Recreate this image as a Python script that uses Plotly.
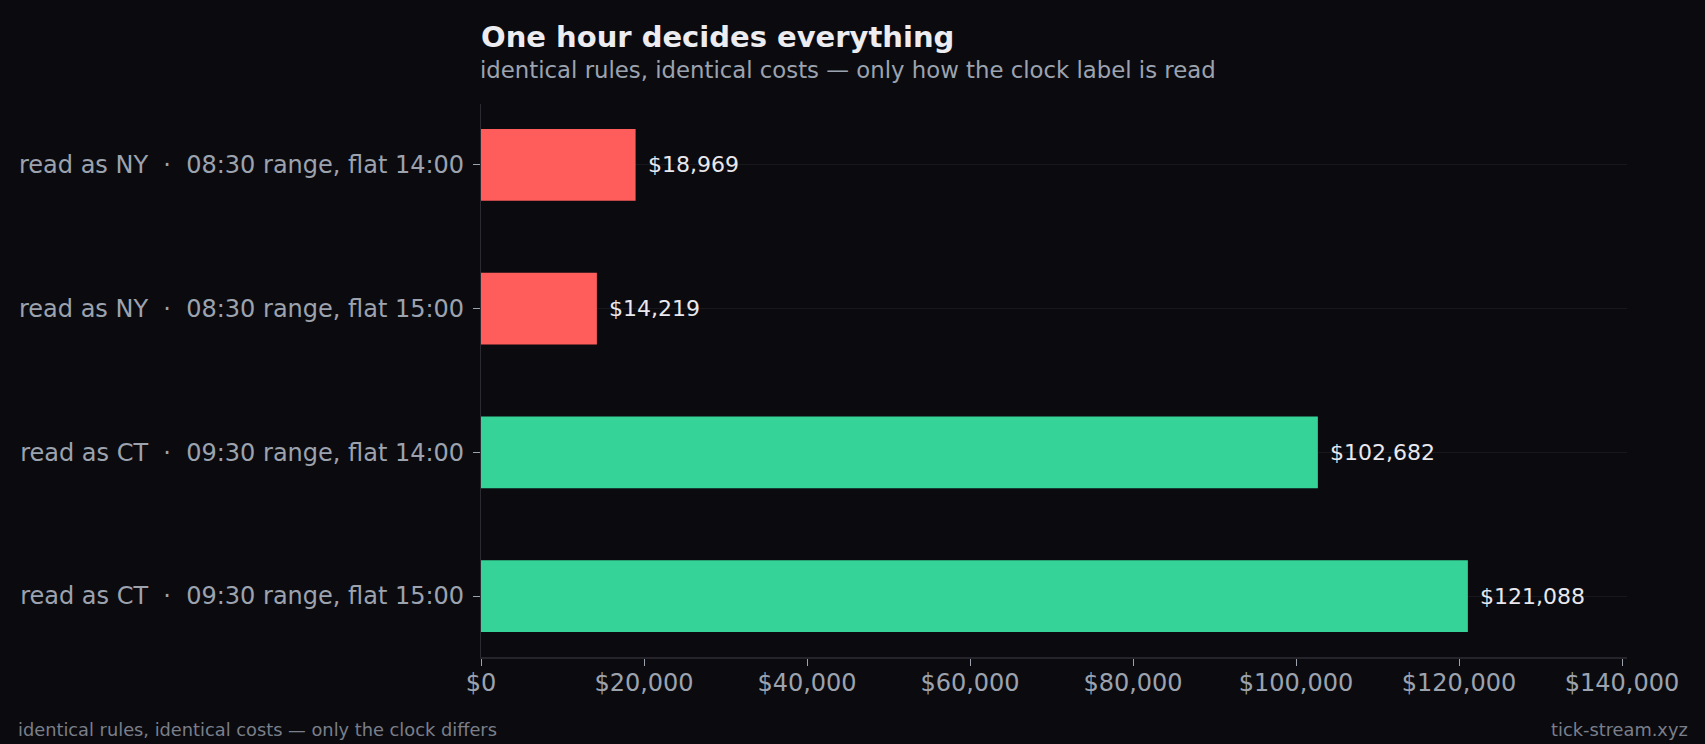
import plotly.graph_objects as go

categories = [
    "read as NY  ·  08:30 range, flat 14:00",
    "read as NY  ·  08:30 range, flat 15:00",
    "read as CT  ·  09:30 range, flat 14:00",
    "read as CT  ·  09:30 range, flat 15:00",
]
values = [18969, 14219, 102682, 121088]
bar_colors = ["#ff5c5c", "#ff5c5c", "#36d399", "#36d399"]
value_labels = ["$18,969", "$14,219", "$102,682", "$121,088"]
x_ticks = [0, 20000, 40000, 60000, 80000, 100000, 120000, 140000]
x_tick_labels = ["$0", "$20,000", "$40,000", "$60,000", "$80,000", "$100,000", "$120,000", "$140,000"]

title_text = "One hour decides everything"
subtitle_text = "identical rules, identical costs — only how the clock label is read"
footer_left = "identical rules, identical costs — only the clock differs"
footer_right = "tick-stream.xyz"

BG = "#0b0b0f"
FONT = "DejaVu Sans"
W, H = 1705, 744
ML, MR, MT, MB = 481, 78, 104, 87
PW, PH = W - ML - MR, H - MT - MB

def py(px):
    return (H - MB - px) / PH

def pxx(px):
    return (px - ML) / PW

fig = go.Figure()
fig.add_trace(go.Bar(
    x=values, y=categories, orientation="h",
    marker=dict(color=bar_colors, line=dict(width=0)),
    width=0.5, hoverinfo="skip",
))

annotations = []
for v, c, t in zip(values, categories, value_labels):
    annotations.append(dict(
        x=v, y=c, xref="x", yref="y", text=t, showarrow=False,
        xanchor="left", yanchor="middle", xshift=10,
        font=dict(family=FONT, size=22, color="#e8e8ee"),
    ))

annotations += [
    dict(x=pxx(479), y=py(37), xref="paper", yref="paper", text="<b>%s</b>" % title_text,
         showarrow=False, xanchor="left", yanchor="middle",
         font=dict(family=FONT, size=29, color="#ececf1")),
    dict(x=pxx(478), y=py(70), xref="paper", yref="paper", text=subtitle_text,
         showarrow=False, xanchor="left", yanchor="middle",
         font=dict(family=FONT, size=22.8, color="#9ca3af")),
    dict(x=pxx(16), y=py(729), xref="paper", yref="paper", text=footer_left,
         showarrow=False, xanchor="left", yanchor="middle",
         font=dict(family=FONT, size=17.8, color="#7a7f8a")),
    dict(x=pxx(1690), y=py(729), xref="paper", yref="paper", text=footer_right,
         showarrow=False, xanchor="right", yanchor="middle",
         font=dict(family=FONT, size=17.8, color="#7a7f8a")),
]

fig.update_layout(
    width=W, height=H,
    margin=dict(l=ML, r=MR, t=MT, b=MB, pad=0),
    paper_bgcolor=BG, plot_bgcolor=BG,
    showlegend=False,
    font=dict(family=FONT, color="#9ca3af"),
    annotations=annotations,
    bargap=0.5,
)
fig.update_xaxes(
    range=[0, 140613],
    tickvals=x_ticks, ticktext=x_tick_labels,
    tickfont=dict(family=FONT, size=24, color="#9ca3af"),
    ticks="outside", ticklen=7, tickwidth=1.2, tickcolor="#9ca3af",
    ticklabelstandoff=-4,
    showgrid=False, zeroline=False,
    showline=True, linecolor="#24242a", linewidth=2,
    fixedrange=True,
)
fig.update_yaxes(
    categoryorder="array", categoryarray=categories,
    range=[3.424, -0.424],
    tickfont=dict(family=FONT, size=24, color="#9ca3af"),
    ticks="outside", ticklen=7, tickwidth=1.2, tickcolor="#9ca3af",
    ticklabelstandoff=4,
    showgrid=True, gridcolor="#17171c", gridwidth=1,
    zeroline=False,
    showline=True, linecolor="#2a2a30", linewidth=1.2,
    fixedrange=True,
)

fig.write_html(
    "out.html",
    config={"displayModeBar": False},
    post_script="document.body.style.margin='0';document.body.style.background='%s';" % BG,
)
